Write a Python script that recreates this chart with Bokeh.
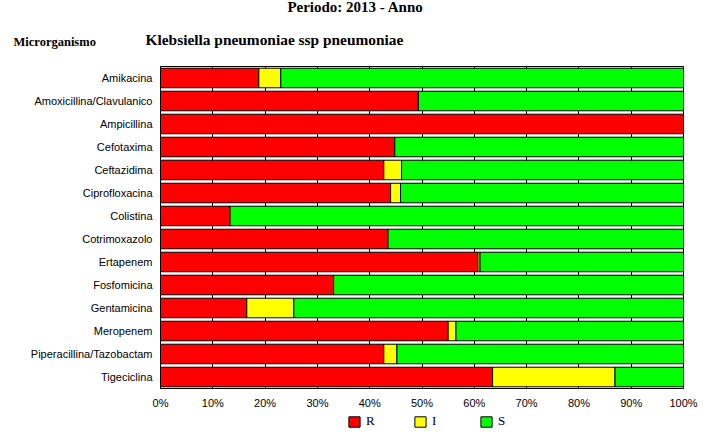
from bokeh.plotting import figure
from bokeh.models import (ColumnDataSource, FactorRange, Range1d, FixedTicker,
                          Legend, LegendItem)
from bokeh.core.properties import value
from bokeh.embed import file_html
from bokeh.resources import INLINE

# ---- data ----
drugs = ["Amikacina", "Amoxicillina/Clavulanico", "Ampicillina", "Cefotaxima",
         "Ceftazidima", "Ciprofloxacina", "Colistina", "Cotrimoxazolo",
         "Ertapenem", "Fosfomicina", "Gentamicina", "Meropenem",
         "Piperacillina/Tazobactam", "Tigeciclina"]
R = [18.8, 49.3, 100.0, 44.8, 42.7, 44.0, 13.3, 43.5, 60.7, 33.1, 16.5, 55.0, 42.7, 63.5]
I = [4.2, 0.0, 0.0, 0.0, 3.4, 1.9, 0.0, 0.0, 0.4, 0.0, 9.0, 1.5, 2.5, 23.4]
S = [77.0, 50.7, 0.0, 55.2, 53.9, 54.1, 86.7, 56.5, 38.9, 66.9, 74.5, 43.5, 54.8, 13.1]
series = ["R", "I", "S"]
colors = ["#FF0000", "#FFFF00", "#00FF00"]
x_ticks = [0, 10, 20, 30, 40, 50, 60, 70, 80, 90, 100]
x_tick_labels = ["0%", "10%", "20%", "30%", "40%", "50%", "60%", "70%", "80%", "90%", "100%"]
title_text = "Periodo: 2013 - Anno"
micro_label = "Microrganismo"
micro_name = "Klebsiella pneumoniae ssp pneumoniae"

HEADER_H = 61
MAIN_H = 350
FOOTER_H = 438 - HEADER_H - MAIN_H


def bare(fig):
    fig.outline_line_color = None
    fig.grid.visible = False
    fig.background_fill_color = "white"
    fig.border_fill_color = "white"


# ---- header (titles) ----
h = figure(width=703, height=HEADER_H, output_backend="svg", toolbar_location=None,
           x_range=Range1d(0, 703), y_range=Range1d(HEADER_H, 0),
           min_border=0, x_axis_type=None, y_axis_type=None)
bare(h)
h.text(x=[355], y=[6], text=[title_text], text_font=value("Liberation Serif"),
       text_font_style="bold", text_font_size="15px", text_align="center",
       text_baseline="middle", text_color="black")
h.text(x=[13], y=[41], text=[micro_label], text_font=value("Liberation Serif"),
       text_font_style="bold", text_font_size="12.5px", text_align="left",
       text_baseline="middle", text_color="black")
h.text(x=[145], y=[39], text=[micro_name], text_font=value("Liberation Serif"),
       text_font_style="bold", text_font_size="15.4px", text_align="left",
       text_baseline="middle", text_color="black")

# ---- main chart ----
source = ColumnDataSource(data=dict(drug=drugs, R=R, I=I, S=S))

p = figure(width=703, height=MAIN_H, output_backend="svg", toolbar_location=None,
           y_range=FactorRange(factors=list(reversed(drugs)), range_padding=0),
           x_range=Range1d(0, 100),
           min_border_left=160, min_border_right=20,
           min_border_top=66 - HEADER_H, min_border_bottom=MAIN_H - 323 - (66 - HEADER_H))
p.background_fill_color = "white"
p.border_fill_color = "white"
p.outline_line_color = "black"
p.outline_line_width = 1

renderers = p.hbar_stack(series, y="drug", height=0.85, color=colors, source=source,
                         line_color="black", line_width=1)

p.ygrid.grid_line_color = None
p.xgrid.grid_line_color = "black"
p.xgrid.grid_line_width = 1
p.xgrid.ticker = FixedTicker(ticks=x_ticks)

p.xaxis.ticker = FixedTicker(ticks=x_ticks)
p.xaxis.major_label_overrides = {t: l for t, l in zip(x_ticks, x_tick_labels)}
p.xaxis.major_tick_out = 0
p.xaxis.major_tick_in = 0
p.xaxis.minor_tick_out = 0
p.xaxis.minor_tick_in = 0
p.xaxis.axis_line_color = "black"
p.xaxis.major_label_standoff = 8
p.xaxis.major_label_text_font = "Liberation Sans"
p.xaxis.major_label_text_font_size = "11px"
p.xaxis.major_label_text_color = "black"

p.yaxis.major_tick_out = 0
p.yaxis.major_tick_in = 0
p.yaxis.axis_line_color = "black"
p.yaxis.major_label_standoff = 8
p.yaxis.major_label_text_font = "Liberation Sans"
p.yaxis.major_label_text_font_size = "11px"
p.yaxis.major_label_text_color = "black"

# ---- footer (legend) ----
f = figure(width=703, height=FOOTER_H, output_backend="svg", toolbar_location=None,
           x_range=Range1d(0, 1), y_range=Range1d(0, 1),
           min_border=0, x_axis_type=None, y_axis_type=None)
bare(f)
swatches = [f.rect(x=[-10], y=[-10], width=1, height=1, fill_color=c, line_color="black")
            for c in colors]
legend = Legend(items=[LegendItem(label=s, renderers=[r], index=0) for s, r in zip(series, swatches)],
                orientation="horizontal", location=(347, FOOTER_H - 18),
                glyph_width=14, glyph_height=13, label_height=13, label_width=20,
                label_standoff=5, spacing=27, padding=0, margin=0,
                border_line_color=None, background_fill_alpha=0,
                label_text_font="Liberation Serif", label_text_font_size="13px",
                label_text_color="black", label_text_baseline="middle")
f.add_layout(legend, "center")

open("out.html", "w").write(file_html([h, p, f], INLINE))
